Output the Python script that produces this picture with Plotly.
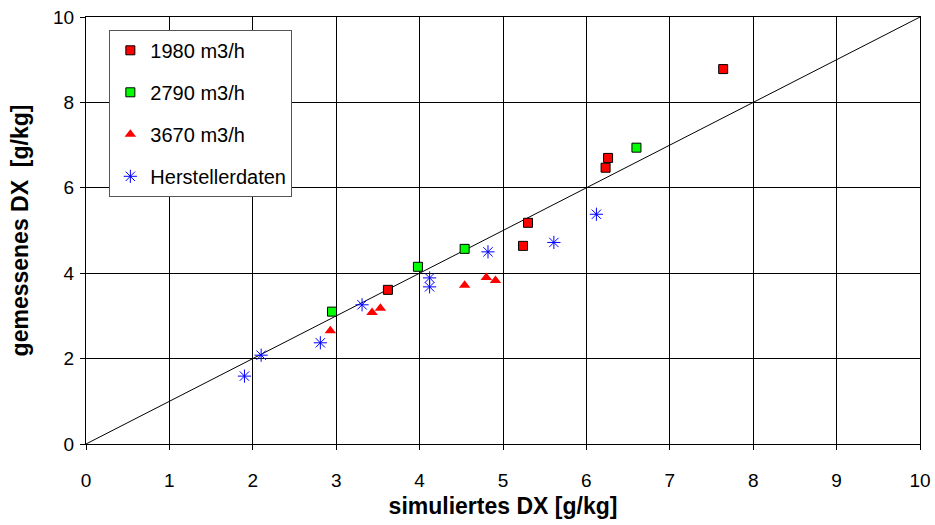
import plotly.graph_objects as go

# Data
x_1980 = [3.62, 5.30, 5.24, 6.23, 6.26, 7.64]
y_1980 = [3.61, 5.18, 4.64, 6.47, 6.70, 8.78]

x_2790 = [2.95, 3.98, 4.54, 6.60]
y_2790 = [3.10, 4.15, 4.57, 6.94]

x_3670 = [2.93, 3.43, 3.53, 4.54, 4.80, 4.91]
y_3670 = [2.65, 3.08, 3.18, 3.72, 3.90, 3.83]

x_herst = [1.90, 2.10, 2.81, 3.31, 4.12, 4.12, 4.82, 5.61, 6.12]
y_herst = [1.59, 2.08, 2.37, 3.26, 3.68, 3.89, 4.50, 4.72, 5.38]

diag = [0, 10]
tick_vals_x = list(range(0, 11))
tick_vals_y = [0, 2, 4, 6, 8, 10]

fig = go.Figure()
fig.add_trace(go.Scatter(x=diag, y=diag, mode="lines",
                         line=dict(color="black", width=1), showlegend=False, hoverinfo="skip"))
fig.add_trace(go.Scatter(x=x_1980, y=y_1980, mode="markers", name="1980 m3/h", legendgroup="a",
                         marker=dict(symbol="square", size=9, color="#ff0000",
                                     line=dict(color="black", width=1))))
fig.add_trace(go.Scatter(x=x_2790, y=y_2790, mode="markers", name="2790 m3/h", legendgroup="b",
                         marker=dict(symbol="square", size=9, color="#00ff00",
                                     line=dict(color="black", width=1))))
fig.add_trace(go.Scatter(x=x_3670, y=y_3670, mode="markers", name="3670 m3/h", legendgroup="c",
                         marker=dict(symbol="triangle-up", size=10, color="#ff0000",
                                     line=dict(width=0))))
fig.add_trace(go.Scatter(x=x_herst, y=y_herst, mode="markers", name="Herstellerdaten", legendgroup="d",
                         marker=dict(symbol="asterisk-open", size=11, color="#0000ff",
                                     line=dict(color="#0000ff", width=1))))

tickfont = dict(family="Arial, Liberation Sans", size=19, color="black")
axis_common = dict(showgrid=True, gridcolor="black", gridwidth=1, showline=True, linecolor="black",
                   linewidth=1, mirror=True, ticks="outside", ticklen=5, tickcolor="black",
                   zeroline=False, automargin=False, tickfont=tickfont)
titlefont = dict(family="Arial, Liberation Sans", size=23, color="black")

fig.update_layout(
    width=935, height=525,
    margin=dict(l=86, r=15, t=17, b=81),
    paper_bgcolor="white", plot_bgcolor="white",
    xaxis=dict(range=[0, 10], tickvals=tick_vals_x, ticklabelstandoff=14,
               title=dict(text="<b>simuliertes DX [g/kg]</b>", standoff=8, font=titlefont),
               **axis_common),
    yaxis=dict(range=[0, 10], tickvals=tick_vals_y, ticklabelstandoff=2,
               title=dict(text="<b>gemessenes DX  [g/kg]</b>", standoff=18, font=titlefont),
               **axis_common),
    legend=dict(x=0.028, y=0.97, xanchor="left", yanchor="top",
                bgcolor="white", bordercolor="#555555", borderwidth=1,
                font=dict(family="Arial, Liberation Sans", size=20, color="black"),
                tracegroupgap=13, traceorder="grouped", itemwidth=30),
    showlegend=True,
)

fig.write_html("out.html")
